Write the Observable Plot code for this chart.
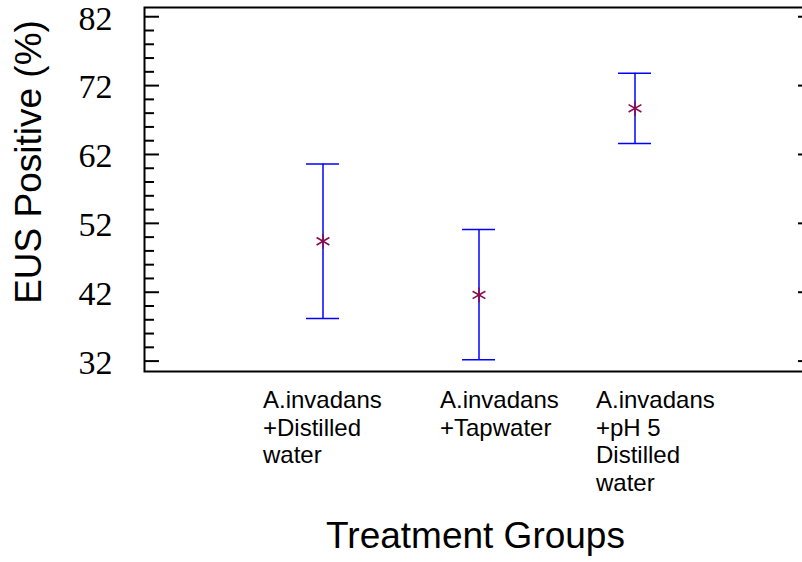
<!DOCTYPE html>
<html>
<head>
<meta charset="utf-8">
<script src="https://cdn.jsdelivr.net/npm/d3@7"></script>
<script src="https://cdn.jsdelivr.net/npm/@observablehq/plot@0.6"></script>
<style>
  html, body { margin: 0; padding: 0; background: #fff; }
  #chart svg { display: block; }
</style>
</head>
<body>
<div id="chart"></div>
<script>
// Treatment groups (x categories, multi-line labels)
const groups = [
  "A.invadans\n+Distilled\nwater",
  "A.invadans\n+Tapwater",
  "A.invadans\n+pH 5\nDistilled\nwater"
];
// Mean EUS positive (%) and interval bounds
const means = [49.4, 41.6, 68.7];
const lower = [38.2, 32.2, 63.6];
const upper = [60.6, 51.1, 73.8];
// Y-axis ticks
const majorTicks = [32, 42, 52, 62, 72, 82];
const minorTicks = [34, 36, 38, 40, 44, 46, 48, 50, 54, 56, 58, 60, 64, 66, 68, 70, 74, 76, 78, 80];

const rows = groups.map((g, i) => ({group: g, mean: means[i], lo: lower[i], hi: upper[i]}));

const sans = "'Liberation Sans', Arial, sans-serif";
const serif = "'Liberation Serif', 'Times New Roman', serif";

const chart = Plot.plot({
  width: 802,
  height: 562,
  marginLeft: 144,
  marginRight: -10,
  marginTop: 7,
  marginBottom: 191,
  style: {background: "#fff", overflow: "hidden"},
  x: {type: "band", domain: groups, paddingInner: 0.79, paddingOuter: 1.028, axis: null},
  y: {domain: [30.49, 83.34], axis: null},
  marks: [
    Plot.frame({stroke: "#000", strokeWidth: 2}),
    // left axis ticks (inward)
    Plot.axisY(minorTicks, {anchor: "left", tickSize: -10, text: null, strokeWidth: 2}),
    Plot.axisY(majorTicks, {anchor: "left", tickSize: -15, text: null, strokeWidth: 2}),
    Plot.axisY(majorTicks, {anchor: "left", tickSize: 0, tickPadding: 32, dy: 2,
      fontSize: 34, fontFamily: serif, fill: "#000", label: null}),
    // right axis ticks (inward)
    Plot.axisY(majorTicks, {anchor: "right", tickSize: -15, text: null, strokeWidth: 2, label: null}),
    // error bars
    Plot.ruleX(rows, {x: "group", y1: "lo", y2: "hi", stroke: "#0000ff", strokeWidth: 1.5}),
    Plot.tickY(rows, {x: "group", y: "hi", stroke: "#0000ff", strokeWidth: 1.5}),
    Plot.tickY(rows, {x: "group", y: "lo", stroke: "#0000ff", strokeWidth: 1.5}),
    // means
    Plot.dot(rows, {x: "group", y: "mean", symbol: "asterisk", r: 7, stroke: "#8b0a50", strokeWidth: 1.6}),
    // category labels
    Plot.text(groups, {x: d => d, filter: (d, i) => i === 0, frameAnchor: "bottom",
      textAnchor: "start", lineAnchor: "top", dx: -60, dy: 17, lineHeight: 1.15,
      fontSize: 24, fontFamily: sans, fill: "#000"}),
    Plot.text(groups, {x: d => d, filter: (d, i) => i > 0, frameAnchor: "bottom",
      textAnchor: "start", lineAnchor: "top", dx: -39, dy: 17, lineHeight: 1.15,
      fontSize: 24, fontFamily: sans, fill: "#000"}),
    // axis titles
    Plot.text(["Treatment Groups"], {frameAnchor: "bottom", textAnchor: "middle", lineAnchor: "middle",
      dx: -3, dy: 164.5, fontSize: 37, fontFamily: sans, fill: "#000"}),
    Plot.text(["EUS Positive (%)"], {frameAnchor: "left", textAnchor: "middle", lineAnchor: "middle", rotate: -90,
      dx: -115.5, dy: -27.5, fontSize: 37, fontFamily: sans, fill: "#000"})
  ]
});
document.getElementById("chart").appendChild(chart);
</script>
</body>
</html>
